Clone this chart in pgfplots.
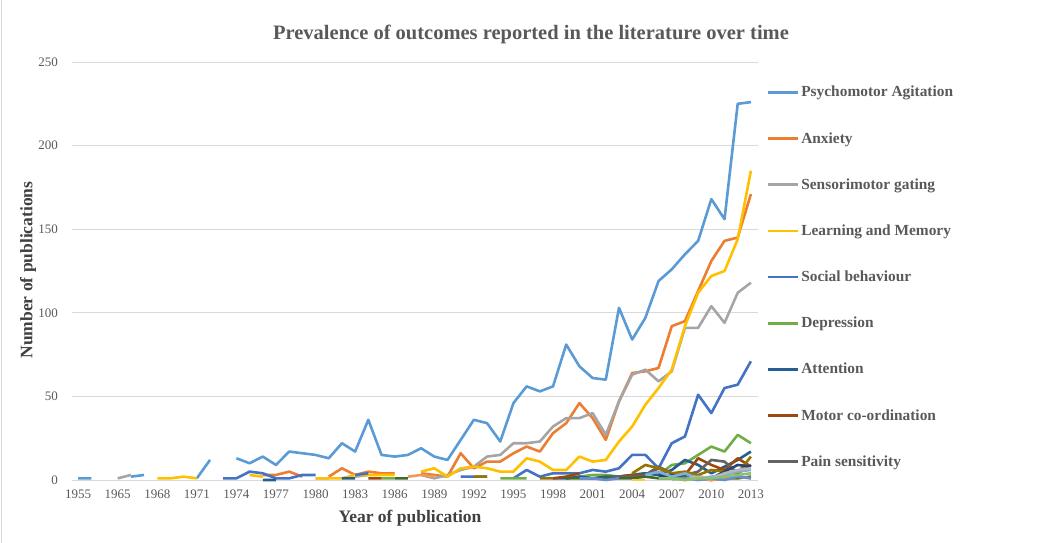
\documentclass[border=0pt]{standalone}
\usepackage{fontspec}
\setmainfont{Liberation Serif}
\usepackage{pgfplots}
\pgfplotsset{compat=1.18}

\definecolor{cPA}{HTML}{5B9BD5}
\definecolor{cAnx}{HTML}{ED7D31}
\definecolor{cSen}{HTML}{A5A5A5}
\definecolor{cLM}{HTML}{FFC000}
\definecolor{cSoc}{HTML}{4472C4}
\definecolor{cDep}{HTML}{70AD47}
\definecolor{cAtt}{HTML}{255E91}
\definecolor{cMot}{HTML}{9E480E}
\definecolor{cPain}{HTML}{636363}
\definecolor{cX1}{HTML}{997300}
\definecolor{cX2}{HTML}{264478}
\definecolor{cX3}{HTML}{43682B}
\definecolor{cX4}{HTML}{7CAFDD}
\definecolor{cX5}{HTML}{F1975A}
\definecolor{cX6}{HTML}{B7B7B7}
\definecolor{cX7}{HTML}{FFCD33}
\definecolor{cX8}{HTML}{698ED0}
\definecolor{cX9}{HTML}{8CC168}
\definecolor{gridc}{HTML}{D9D9D9}
\definecolor{tick}{HTML}{595959}
\definecolor{labc}{HTML}{404040}

\begin{document}
\begin{tikzpicture}
\useasboundingbox (0,0) rectangle (1044pt,543pt);
\draw[gridc, line width=0.8pt] (1.5pt,0) -- (1.5pt,543pt);
\node[font=\fontsize{20.5}{23}\selectfont\bfseries, text=tick] at (531pt,509pt)
  {Prevalence of outcomes reported in the literature over time};

\begin{axis}[
  at={(71.5pt,63pt)}, anchor=south west,
  scale only axis, width=686pt, height=418pt,
  xmin=-0.5, xmax=51.5, ymin=0, ymax=250,
  xtick={0,3,...,51},
  xticklabels={1955,1965,1968,1971,1974,1977,1980,1983,1986,1989,1992,1995,1998,2001,2004,2007,2010,2013},
  ytick={0,50,...,250},
  ymajorgrids, grid style={draw=gridc, line width=0.8pt},
  axis line style={draw=none},
  major tick length=0pt,
  tick label style={font=\fontsize{13}{15}\selectfont, text=tick},
  /pgf/number format/assume math mode=true,
  xticklabel style={yshift=-6pt},
  yticklabel style={xshift=-10pt},
  unbounded coords=jump,
  no markers, clip=false,
  every axis plot/.append style={line width=2.6pt, line join=round},
  legend image code/.code={\draw[#1] (0pt,0pt) -- (30pt,0pt);},
  legend cell align=left,
  legend style={at={(axis description cs:1,1)}, anchor=north west,
    xshift=6pt, yshift=-20pt, draw=none, fill=none,
    font=\fontsize{15.4}{17}\selectfont\bfseries, text=tick, row sep=30pt},
]
\addplot[cPA] coordinates {(0,1)(1,1)(2,nan)(4,2)(5,3)(6,nan)(9,1)(10,12)(11,nan)(12,13)(13,10)(14,14)(15,9)(16,17)(17,16)(18,15)(19,13)(20,22)(21,17)(22,36)(23,15)(24,14)(25,15)(26,19)(27,14)(28,12)(29,24)(30,36)(31,34)(32,23)(33,46)(34,56)(35,53)(36,56)(37,81)(38,68)(39,61)(40,60)(41,103)(42,84)(43,97)(44,119)(45,126)(46,135)(47,143)(48,168)(49,156)(50,225)(51,226)};
\addlegendentry{Psychomotor Agitation}
\addplot[cAnx] coordinates {(14,3)(15,3)(16,5)(17,2)(18,nan)(19,2)(20,7)(21,3)(22,5)(23,4)(24,4)(25,nan)(26,4)(27,3)(28,2)(29,16)(30,7)(31,11)(32,11)(33,16)(34,20)(35,17)(36,28)(37,34)(38,46)(39,37)(40,24)(41,47)(42,64)(43,65)(44,67)(45,92)(46,95)(47,113)(48,131)(49,143)(50,145)(51,171)};
\addlegendentry{Anxiety}
\addplot[cSen] coordinates {(3,1)(4,3)(5,nan)(18,1)(19,1)(20,nan)(21,2)(22,3)(23,nan)(26,3)(27,1)(28,3)(29,6)(30,8)(31,14)(32,15)(33,22)(34,22)(35,23)(36,32)(37,37)(38,37)(39,40)(40,27)(41,47)(42,63)(43,66)(44,59)(45,65)(46,91)(47,91)(48,104)(49,94)(50,112)(51,118)};
\addlegendentry{Sensorimotor gating}
\addplot[cLM] coordinates {(6,1)(7,1)(8,2)(9,1)(10,nan)(13,3)(14,2)(15,nan)(18,1)(19,1)(20,1)(21,3)(22,3)(23,3)(24,3)(25,nan)(26,5)(27,7)(28,2)(29,7)(30,8)(31,7)(32,5)(33,5)(34,13)(35,11)(36,6)(37,6)(38,14)(39,11)(40,12)(41,23)(42,32)(43,45)(44,55)(45,66)(46,92)(47,112)(48,122)(49,125)(50,144)(51,185)};
\addlegendentry{Learning and Memory}
\addplot[cSoc] coordinates {(11,1)(12,1)(13,5)(14,4)(15,1)(16,1)(17,3)(18,3)(19,nan)(21,3)(22,4)(23,nan)(29,2)(30,2)(31,2)(32,nan)(33,1)(34,6)(35,2)(36,4)(37,4)(38,4)(39,6)(40,5)(41,7)(42,15)(43,15)(44,7)(45,22)(46,26)(47,51)(48,40)(49,55)(50,57)(51,71)};
\addlegendentry{Social behaviour}
\addplot[cDep] coordinates {(23,1)(24,1)(25,nan)(32,1)(33,1)(34,1)(35,nan)(37,1)(38,2)(39,3)(40,3)(41,2)(42,3)(43,4)(44,3)(45,9)(46,10)(47,15)(48,20)(49,17)(50,27)(51,22)};
\addlegendentry{Depression}
\addplot[cAtt] coordinates {(14,0)(15,0)(16,nan)(20,1)(21,1)(22,nan)(36,1)(37,1)(38,2)(39,1)(40,2)(41,2)(42,3)(43,4)(44,3)(45,6)(46,12)(47,9)(48,4)(49,8)(50,12)(51,17)};
\addlegendentry{Attention}
\addplot[cMot] coordinates {(22,1)(23,1)(24,nan)(36,1)(37,2)(38,4)(39,nan)(41,2)(42,3)(43,3)(44,7)(45,4)(46,3)(47,13)(48,9)(49,6)(50,13)(51,8)};
\addlegendentry{Motor co-ordination}
\addplot[cPain] coordinates {(40,1)(41,2)(42,2)(43,3)(44,8)(45,4)(46,3)(47,5)(48,12)(49,11)(50,4)(51,9)};
\addlegendentry{Pain sensitivity}
% further outcomes, not named in the legend
\addplot[cX1, forget plot] coordinates {(30,2)(31,2)(32,nan)(35,1)(36,1)(37,nan)(42,4)(43,9)(44,7)(45,4)(46,5)(47,3)(48,6)(49,5)(50,4)(51,14)};
\addplot[cX2, forget plot] coordinates {(44,2)(45,3)(46,1)(47,2)(48,1)(49,5)(50,9)(51,8)};
\addplot[cX3, forget plot] coordinates {(24,1)(25,1)(26,nan)(37,1)(38,1)(39,1)(40,1)(41,1)(42,1)(43,2)(44,1)(45,1)(46,2)(47,1)(48,0)(49,1)(50,1)(51,2)};
\addplot[cX4, forget plot] coordinates {(43,3)(44,5)(45,2)(46,4)(47,1)(48,2)(49,3)(50,5)(51,6)};
\addplot[cX5, forget plot] coordinates {(25,2)(26,3)(27,2)(28,nan)(45,1)(46,0)(47,1)(48,0)(49,1)(50,2)(51,1)};
\addplot[cX6, forget plot] coordinates {(45,0)(46,1)(47,2)(48,1)(49,4)(50,6)(51,7)};
\addplot[cX7, forget plot] coordinates {(42,0)(43,0)};
\addplot[cX8, forget plot] coordinates {(38,1)(39,1)(40,0)(41,1)(42,nan)(45,1)(46,1)(47,0)(48,1)(49,0)(50,2)(51,1)};
\addplot[cX9, forget plot] coordinates {(44,1)(45,1)(46,0)(47,1)(48,1)(49,2)(50,3)(51,4)};
\end{axis}

\node[font=\fontsize{17.5}{20}\selectfont\bfseries, text=labc] at (410pt,25pt) {Year of publication};
\node[font=\fontsize{17.5}{20}\selectfont\bfseries, text=labc, rotate=90] at (28pt,273pt) {Number of publications};
\end{tikzpicture}
\end{document}
